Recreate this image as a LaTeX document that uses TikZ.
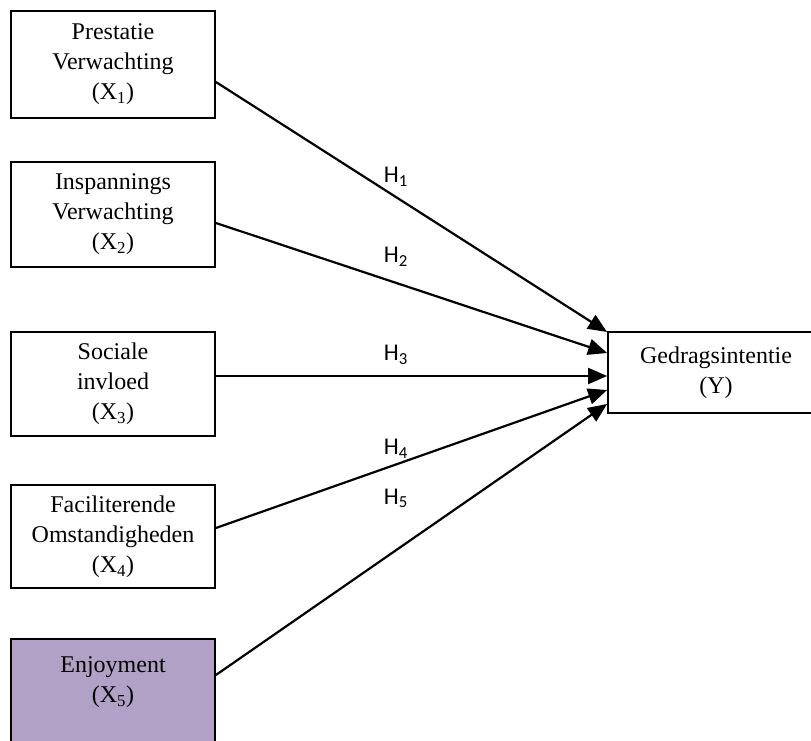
\documentclass[tikz,border=0pt]{standalone}
\usepackage{fontspec}
\setmainfont{Liberation Serif}
\newfontfamily\hypfont{Carlito}
\usetikzlibrary{arrows.meta}
\definecolor{lila}{RGB}{178,161,199}

\begin{document}
\begin{tikzpicture}[x=1pt,y=1pt,
    box/.style={draw, line width=1.8pt, minimum width=204pt, minimum height=105pt,
        align=center, inner sep=0pt, font=\fontsize{24}{30}\selectfont},
    arr/.style={-{Triangle[length=19pt,width=16pt]}, line width=2.2pt},
    hyp/.style={font=\hypfont\fontsize{24}{28}\selectfont}]
    \useasboundingbox (0,0) rectangle (811,740);
    \node[box, minimum height=107pt] (x1) at (113,675.5) {Prestatie\\Verwachting\\(X\textsubscript{1})};
    \node[box] (x2) at (113,525.5) {Inspannings\\Verwachting\\(X\textsubscript{2})};
    \node[box, minimum height=104pt] (x3) at (113,356) {Sociale\\invloed\\(X\textsubscript{3})};
    \node[box, minimum height=103pt] (x4) at (113,203.5) {Faciliterende\\Omstandigheden\\(X\textsubscript{4})};
    \node[box, fill=lila, minimum height=112pt] (x5) at (113,45) {Enjoyment\\(X\textsubscript{5})\\\mbox{}};
    \node[box, minimum width=216pt, minimum height=81pt] (y) at (716,367.5) {Gedragsintentie\\(Y)};
    \draw[arr] ([yshift=-17.5pt]x1.east) -- ([yshift=40.5pt]y.west)node[hyp,pos=.46,yshift=20pt]{H\textsubscript{1}};
    \draw[arr] ([yshift=-8.5pt]x2.east) -- ([yshift=19.5pt]y.west)node[hyp,pos=.46,yshift=26pt]{H\textsubscript{2}};
    \draw[arr] ([yshift=8pt]x3.east) -- ([yshift=-3.5pt]y.west)node[hyp,pos=.46,yshift=21pt]{H\textsubscript{3}};
    \draw[arr] ([yshift=8.5pt]x4.east) -- ([yshift=-17.5pt]y.west)node[hyp,pos=.46,yshift=16pt]{H\textsubscript{4}};
    \draw[arr] ([yshift=20pt]x5.east) -- ([yshift=-31.5pt]y.west)node[hyp,pos=.46,yshift=52pt]{H\textsubscript{5}};
\end{tikzpicture}
\end{document}
